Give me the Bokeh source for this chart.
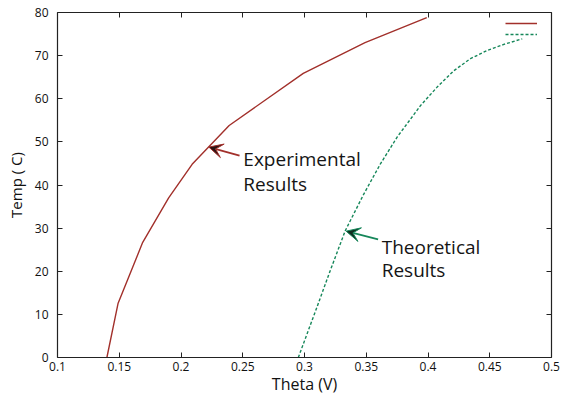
from bokeh.plotting import figure
from bokeh.models import (Range1d, LinearAxis, FixedTicker, CustomJSTickFormatter,
                          Arrow, VeeHead, Label, Legend, LegendItem, Title)
from bokeh.embed import file_html
from bokeh.resources import INLINE

# Experimental results
exp_theta = [0.14, 0.149, 0.169, 0.19, 0.209, 0.239, 0.299, 0.349, 0.399]
exp_temp = [0, 12.5, 26.7, 37, 44.8, 53.8, 65.9, 73, 78.8]

# Theoretical results
theo_theta = [0.295, 0.31, 0.32, 0.333, 0.348, 0.3615, 0.375, 0.3885, 0.3939,
              0.4074, 0.4209, 0.4344, 0.4479, 0.4614, 0.4763]
theo_temp = [0, 11.6, 19.5, 29.4, 37.9, 44.9, 51.1, 56.3, 58.4, 62.7, 66.5,
             69.3, 71.2, 72.6, 73.9]

x_ticks = [0.1, 0.15, 0.2, 0.25, 0.3, 0.35, 0.4, 0.45, 0.5]
y_ticks = [0, 10, 20, 30, 40, 50, 60, 70, 80]

# annotation anchors (data coords)
exp_arrow = dict(tail=(0.2474, 46.8), tip=(0.2225, 48.8))
theo_arrow = dict(tail=(0.3596, 27.4), tip=(0.3337, 29.3))
exp_text = [(0.2505, 46.1, "Experimental"), (0.2505, 40.3, "Results")]
theo_text = [(0.3625, 25.6, "Theoretical"), (0.3625, 20.2, "Results")]

RED = "#a2302b"
GREEN = "#16875a"
FONT = "Open Sans"

p = figure(width=566, height=394, output_backend="svg", toolbar_location=None,
           x_range=Range1d(0.1, 0.5), y_range=Range1d(0, 80),
           min_border_left=57, min_border_right=15, min_border_top=12,
           min_border_bottom=37, x_axis_label=None, y_axis_label="Temp ( C)")
p.outline_line_color = None
p.grid.visible = False
p.background_fill_color = "white"
p.border_fill_color = "white"

fmt = CustomJSTickFormatter(code="return parseFloat(tick.toFixed(2)).toString();")
blank = CustomJSTickFormatter(code="return '';")

def style_axis(ax, ticks, show_labels=True):
    ax.ticker = FixedTicker(ticks=ticks)
    ax.formatter = fmt
    ax.major_tick_in = 5
    ax.major_tick_out = 0
    ax.minor_tick_line_color = None
    ax.axis_line_color = "#222222"
    ax.major_tick_line_color = "#222222"
    ax.axis_line_width = 1.2
    ax.major_label_text_font = FONT
    ax.major_label_text_font_size = "12px"
    ax.major_label_text_color = "#111111"
    ax.axis_label_text_font = FONT
    ax.axis_label_text_font_size = "15px"
    ax.axis_label_text_font_style = "normal"
    ax.axis_label_text_color = "#111111"
    if not show_labels:
        ax.formatter = blank
        ax.major_label_text_font_size = "1px"
        ax.major_label_standoff = 0

style_axis(p.xaxis[0], x_ticks)
p.xaxis[0].major_label_standoff = 4
style_axis(p.yaxis[0], y_ticks)
p.yaxis[0].major_label_standoff = 9
p.yaxis[0].axis_label_standoff = 6

top = LinearAxis()
style_axis(top, x_ticks, show_labels=False)
p.add_layout(top, "above")
right = LinearAxis()
style_axis(right, y_ticks, show_labels=False)
p.add_layout(right, "right")

# x axis title, slightly right of centre as in the original
p.add_layout(Title(text="Theta (V)", align="center", offset=13, standoff=-5,
                   text_font=FONT, text_font_size="16px",
                   text_font_style="normal", text_color="#111111"), "below")

r1 = p.line(exp_theta, exp_temp, line_color=RED, line_width=1.4)
r2 = p.line(theo_theta, theo_temp, line_color=GREEN, line_width=1.4,
            line_dash="3 2")

legend = Legend(items=[LegendItem(label=" ", renderers=[r1]),
                       LegendItem(label=" ", renderers=[r2])],
                location=(448, 318.5), glyph_width=32, glyph_height=10,
                label_height=10, label_width=0, label_standoff=0, spacing=1,
                padding=0, margin=0, border_line_color=None,
                background_fill_alpha=0, label_text_font_size="1px")
p.add_layout(legend, "center")

for arr, col, dark in ((exp_arrow, RED, "#2b1312"), (theo_arrow, GREEN, "#0f2d1f")):
    p.add_layout(Arrow(x_start=arr["tail"][0], y_start=arr["tail"][1],
                       x_end=arr["tip"][0], y_end=arr["tip"][1],
                       line_color=col, line_width=1.8,
                       end=VeeHead(size=14, fill_color=dark, line_color=col,
                                   line_width=1)))

for x, y, t in exp_text + theo_text:
    p.add_layout(Label(x=x, y=y, text=t, text_font=FONT, text_font_size="19px",
                       text_color="#151515", text_baseline="alphabetic",
                       text_align="left"))

open("out.html", "w").write(file_html(p, INLINE))
